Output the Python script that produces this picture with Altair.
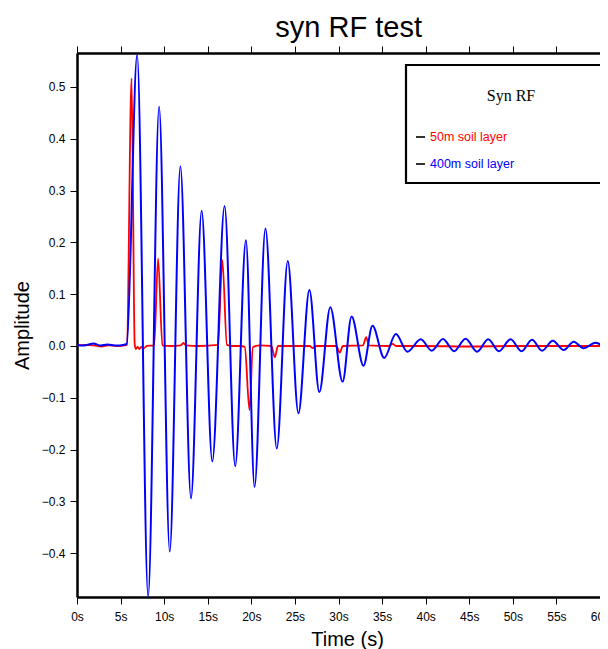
import altair as alt
import pandas as pd

# ---------------- data ----------------
chart_title = "syn RF test"
legend_title = "Syn RF"
series_names = ["50m soil layer", "400m soil layer"]
series_colors = ["#ff0000", "#0000ff"]

# 400m soil layer (blue): time (s) and amplitude at extrema / key points
blue_t = [0.0, 0.8, 1.9, 2.6, 3.5, 4.5, 5.3, 5.7,
          6.9, 8.16, 9.42, 10.64, 11.86, 13.08, 14.30, 15.52, 16.93, 18.15,
          19.38, 20.37, 21.62, 22.92, 24.18, 25.40, 26.66, 27.80, 29.06,
          30.47, 31.5, 32.87, 33.9, 35.24, 36.58, 37.9, 39.44, 40.7, 41.99,
          43.25, 44.58, 45.9, 47.17, 48.4, 49.74, 51.0, 52.2, 53.35, 54.58,
          55.84, 56.98, 58.12, 59.46, 60.75, 61.5]
blue_v = [0.002, 0.001, 0.005, 0.001, 0.003, 0.001, 0.002, 0.004,
          0.562, -0.484, 0.462, -0.397, 0.347, -0.294, 0.261, -0.223, 0.270, -0.232,
          0.204, -0.272, 0.227, -0.198, 0.164, -0.130, 0.108, -0.089, 0.075,
          -0.069, 0.057, -0.038, 0.039, -0.023, 0.023, -0.011, 0.013, -0.009, 0.0135,
          -0.010, 0.014, -0.011, 0.013, -0.010, 0.013, -0.010, 0.012, -0.009, 0.010,
          -0.008, 0.008, -0.0045, 0.0064, -0.001, 0.002]

# 50m soil layer (red)
red_t = [0.0, 1.0, 1.9, 2.8, 3.6, 4.6, 5.5, 5.72, 6.26, 6.62, 6.75, 6.95, 7.15,
         7.4, 7.7, 8.0, 8.85, 9.30, 9.8, 10.8, 11.9, 12.2, 12.5, 14.0, 16.17,
         16.67, 17.2, 17.8, 18.8, 19.25, 19.79, 20.18, 21.0, 22.3, 22.70, 23.05,
         25.0, 26.7, 27.05, 27.4, 29.75, 30.15, 30.5, 32.8, 33.18, 33.5, 35.8,
         36.2, 36.6, 40.0, 45.0, 50.0, 55.0, 61.5]
red_v = [0.001, 0.002, 0.001, -0.001, 0.001, 0.0, 0.001, 0.002, 0.517, 0.003,
         -0.006, -0.002, -0.006, -0.002, -0.004, 0.0, 0.001, 0.169, 0.001, 0.0,
         0.001, 0.006, 0.001, 0.0, 0.002, 0.166, 0.002, 0.0, 0.0, -0.002, -0.124,
         -0.002, 0.001, 0.0, -0.022, 0.0, 0.0, 0.0, -0.004, 0.0, 0.0, -0.013, 0.0,
         0.001, 0.017, 0.001, 0.0, 0.004, 0.0, 0.0, -0.001, 0.0, 0.0, 0.0]

x_ticks = list(range(0, 61, 5))
y_ticks = [-0.4, -0.3, -0.2, -0.1, 0.0, 0.1, 0.2, 0.3, 0.4, 0.5]

red_df = pd.DataFrame({"t": red_t, "v": red_v})
blue_df = pd.DataFrame({"t": blue_t, "v": blue_v})
one = pd.DataFrame({"k": [0]})

# ---------------- scales / axes ----------------
FONT = "Liberation Sans"
xscale = alt.Scale(domain=[0, 60.0], nice=False, zero=False)
yscale = alt.Scale(domain=[-0.4846, 0.5656], nice=False, zero=False)

base_axis = dict(grid=False, domainColor="black", domainWidth=2.5,
                 tickColor="black", tickWidth=1, tickSize=7,
                 labelFont=FONT, labelFontSize=12, labelColor="black",
                 labelFlush=False, labelOverlap=False)
title_style = dict(titleFont=FONT, titleFontSize=20, titleFontWeight="normal",
                   titleColor="black")

x_bottom = alt.Axis(values=x_ticks, labelExpr="datum.value + 's'", orient="bottom",
                    labelPadding=7, title="Time (s)", titleBaseline="alphabetic",
                    titleX=270, titleY=48.5, **base_axis, **title_style)
x_top = alt.Axis(values=x_ticks, orient="top", labels=False, title=None, **base_axis)
y_left = alt.Axis(values=y_ticks, format=".1f", orient="left", labelPadding=5,
                  title="Amplitude", titlePadding=9, **base_axis, **title_style)

red_line = alt.Chart(red_df).mark_line(
    color=series_colors[0], strokeWidth=1.8, interpolate="monotone", clip=True
).encode(
    x=alt.X("t:Q", scale=xscale, axis=x_bottom),
    y=alt.Y("v:Q", scale=yscale, axis=y_left),
)

blue_line = alt.Chart(blue_df).mark_line(
    color=series_colors[1], strokeWidth=2, interpolate="monotone", clip=True
).encode(
    x=alt.X("t:Q", scale=xscale, axis=x_top),
    y=alt.Y("v:Q", scale=yscale, axis=y_left),
)

# ---------------- chart title (text placed above the frame) ----------------
title_layer = alt.Chart(one).mark_text(
    text=chart_title, font=FONT, fontSize=29, align="center",
    baseline="alphabetic", color="black"
).encode(x=alt.value(271.7), y=alt.value(-16.5))

# ---------------- legend box ----------------
legend_layers = [
    alt.Chart(one).mark_rect(fill="white", stroke="black", strokeWidth=2.2).encode(
        x=alt.value(329), x2=alt.value(560), y=alt.value(12), y2=alt.value(130)),
    alt.Chart(one).mark_text(text=legend_title, font="Liberation Serif", fontSize=16,
                             align="center", baseline="alphabetic", color="black").encode(
        x=alt.value(434), y=alt.value(47.5)),
]
for i, (name, col) in enumerate(zip(series_names, series_colors)):
    yy = 84 + 27 * i
    legend_layers.append(
        alt.Chart(one).mark_rule(color="black", strokeWidth=1.6).encode(
            x=alt.value(339), x2=alt.value(348), y=alt.value(yy)))
    legend_layers.append(
        alt.Chart(one).mark_text(text=name, font=FONT, fontSize=12.5, align="left",
                                 baseline="middle", color=col).encode(
            x=alt.value(353), y=alt.value(yy)))

chart = alt.layer(red_line, blue_line, title_layer, *legend_layers).properties(
    width=523,
    height=544,
    autosize=alt.AutoSizeParams(type="none"),
    padding={"left": 69, "top": 45, "right": 0, "bottom": 52},
).configure_view(stroke=None).configure(background="white")

chart.save("out.html", embed_options={"renderer": "svg", "actions": False})
